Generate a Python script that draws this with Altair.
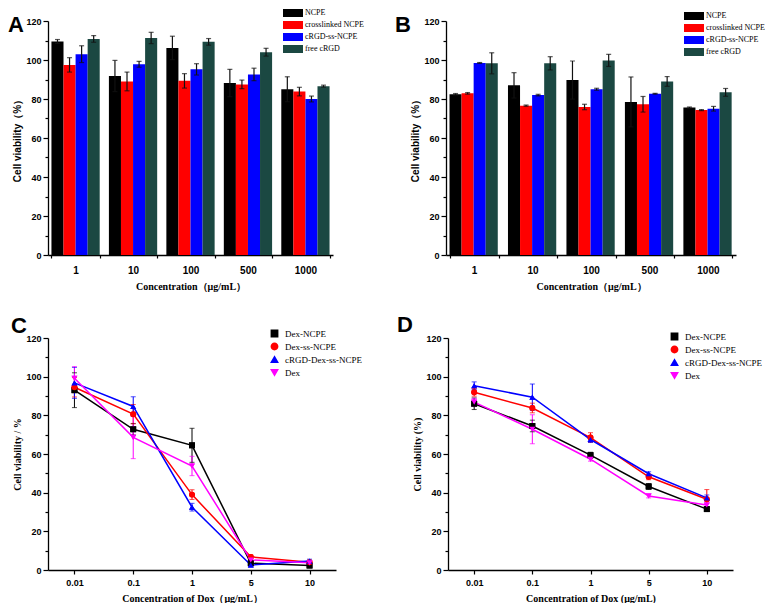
import altair as alt
import pandas as pd

# ---------------- data ----------------
conc_bar = ["1", "10", "100", "500", "1000"]
bar_series = ["NCPE", "crosslinked NCPE", "cRGD-ss-NCPE", "free cRGD"]
bar_colors = ["#000000", "#ff0000", "#0000ff", "#1b4842"]

# Panel A
a_ncpe = [109.5, 91.8, 106.2, 88.2, 85.0]
a_ncpe_err = [1.0, 8.0, 6.0, 7.0, 6.4]
a_cross = [97.5, 89.0, 89.3, 87.5, 83.8]
a_cross_err = [3.7, 4.8, 3.7, 2.2, 2.2]
a_crgd = [103.0, 97.8, 95.2, 92.6, 80.0]
a_crgd_err = [4.3, 1.5, 2.9, 3.2, 1.5]
a_free = [110.8, 111.3, 109.3, 104.0, 86.6]
a_free_err = [1.7, 2.9, 1.7, 2.0, 0.5]

# Panel B
b_ncpe = [82.4, 87.0, 89.7, 78.5, 75.6]
b_ncpe_err = [0.4, 6.5, 9.8, 12.8, 0.3]
b_cross = [82.9, 76.6, 75.9, 77.3, 74.3]
b_cross_err = [0.4, 0.3, 1.4, 4.0, 0.3]
b_crgd = [98.5, 82.0, 85.0, 82.7, 75.0]
b_crgd_err = [0.2, 0.4, 0.5, 0.2, 1.2]
b_free = [98.3, 98.3, 99.8, 89.0, 83.4]
b_free_err = [5.4, 3.4, 3.1, 2.5, 2.0]

dox_conc = ["0.01", "0.1", "1", "5", "10"]
line_series = ["Dex-NCPE", "Dex-ss-NCPE", "cRGD-Dex-ss-NCPE", "Dex"]
line_colors = ["#000000", "#ff0000", "#0000ff", "#ff00ff"]
marker_shapes = ["square", "circle", "triangle-up", "triangle-down"]

# Panel C
c_dex_ncpe = [93.0, 72.8, 64.5, 3.5, 2.3]
c_dex_ncpe_err = [9.0, 3.0, 8.8, 1.0, 1.0]
c_dex_ss = [94.5, 80.6, 39.0, 6.8, 4.0]
c_dex_ss_err = [5.0, 5.0, 2.5, 1.0, 1.0]
c_crgd = [96.8, 84.6, 32.5, 2.6, 4.6]
c_crgd_err = [8.0, 5.0, 2.0, 1.0, 1.0]
c_dox = [99.2, 68.6, 53.8, 5.2, 3.7]
c_dox_err = [6.0, 11.0, 5.0, 1.0, 1.0]

# Panel D
d_dex_ncpe = [86.0, 74.5, 59.4, 43.2, 31.5]
d_dex_ncpe_err = [3.0, 3.0, 1.5, 1.5, 1.0]
d_dex_ss = [91.9, 83.8, 68.5, 48.2, 36.6]
d_dex_ss_err = [2.0, 2.5, 2.5, 1.5, 5.0]
d_crgd = [95.3, 89.4, 67.5, 49.8, 37.3]
d_crgd_err = [2.0, 6.8, 1.5, 1.0, 1.5]
d_dox = [86.8, 72.8, 57.3, 38.3, 33.6]
d_dox_err = [2.0, 7.5, 1.0, 1.0, 1.0]


def long_table(cats, series, vals, errs):
    rows = []
    for s, v, e in zip(series, vals, errs):
        for c, vi, ei in zip(cats, v, e):
            rows.append({"conc": c, "series": s, "value": vi,
                         "lo": vi - ei, "hi": vi + ei})
    return pd.DataFrame(rows)


def y_axis(title, font):
    return alt.Axis(
        title=title, values=list(range(0, 121, 10)),
        labelExpr="datum.value % 20 === 0 ? datum.label : ''",
        tickSize={"condition": {"test": "datum.value % 20 === 0", "value": 5}, "value": 3},
        labelOverlap=False, titleFont=font, minExtent=22, maxExtent=22,
        titlePadding=4,
    )


def letter_layer(letter, dx, dy):
    return alt.Chart(pd.DataFrame({"letter": [letter]})).mark_text(
        align="left", baseline="alphabetic", fontSize=22, font="Liberation Sans",
        fontWeight="bold", color="#000000"
    ).encode(text="letter:N", x=alt.value(dx), y=alt.value(dy))


def bar_panel(vals, errs, letter, width, height, leg_x, leg_y, ytitle, tdx, tdy):
    df = long_table(conc_bar, bar_series, vals, errs)
    x = alt.X("conc:N", sort=conc_bar,
              scale=alt.Scale(paddingInner=0.16, paddingOuter=0.06),
              axis=alt.Axis(title="Concentration（μg/mL）", labelAngle=0, tickBand="extent",
                            tickSize=3, labelPadding=7, titlePadding=6, labelFontSize=10))
    xo = alt.XOffset("series:N", sort=bar_series)
    yscale = alt.Scale(domain=[0, 120], nice=False)
    yax = y_axis(ytitle, "Liberation Sans")
    color = alt.Color(
        "series:N", sort=bar_series,
        scale=alt.Scale(domain=bar_series, range=bar_colors),
        legend=alt.Legend(title=None, orient="none", legendX=leg_x, legendY=leg_y,
                          symbolType="M-2,-0.8H2V0.8H-2Z", symbolSize=100,
                          labelFont="Liberation Serif", labelFontSize=8, rowPadding=3,
                          padding=0, labelOffset=7, symbolStrokeWidth=0),
    )
    base = alt.Chart(df).encode(x=x, xOffset=xo)
    bars = base.mark_bar().encode(
        y=alt.Y("value:Q", scale=yscale, axis=yax), color=color)
    rule = base.mark_rule(color="#111111", strokeWidth=1.2).encode(
        y=alt.Y("lo:Q", scale=yscale, axis=yax), y2="hi:Q")
    cap_hi = base.mark_tick(color="#111111", size=5, thickness=1.2).encode(
        y=alt.Y("hi:Q", scale=yscale, axis=yax))
    cap_lo = base.mark_tick(color="#111111", size=5, thickness=1.2).encode(
        y=alt.Y("lo:Q", scale=yscale, axis=yax))
    return alt.layer(bars, rule, cap_hi, cap_lo, letter_layer(letter, tdx, tdy)).properties(
        width=width, height=height)


def line_panel(vals, errs, letter, width, height, leg_x, leg_y, ytitle, xtitle, yfont, tdx, tdy):
    df = long_table(dox_conc, line_series, vals, errs)
    x = alt.X("conc:N", sort=dox_conc, scale=alt.Scale(type="point", padding=0.45),
              axis=alt.Axis(title=xtitle, labelAngle=0, tickSize=4, labelPadding=4,
                            titlePadding=6))
    yscale = alt.Scale(domain=[0, 120], nice=False)
    yax = y_axis(ytitle, yfont)
    cscale = alt.Scale(domain=line_series, range=line_colors)
    leg = alt.Legend(title=None, orient="none", legendX=leg_x, legendY=leg_y,
                     symbolSize=40, labelFont="Liberation Serif", labelFontSize=9,
                     rowPadding=0, padding=0, labelOffset=6, symbolStrokeWidth=1.5)
    col = alt.Color("series:N", sort=line_series, scale=cscale, legend=leg)
    base = alt.Chart(df).encode(x=x)
    rule = base.mark_rule(strokeWidth=1).encode(
        y=alt.Y("lo:Q", scale=yscale, axis=yax), y2="hi:Q", color=col)
    cap_hi = base.mark_tick(size=5, thickness=1).encode(
        y=alt.Y("hi:Q", scale=yscale, axis=yax), color=col)
    cap_lo = base.mark_tick(size=5, thickness=1).encode(
        y=alt.Y("lo:Q", scale=yscale, axis=yax), color=col)
    line = base.mark_line(strokeWidth=1.5).encode(
        y=alt.Y("value:Q", scale=yscale, axis=yax), color=col)
    pts = base.mark_point(filled=True, size=35, opacity=1).encode(
        y=alt.Y("value:Q", scale=yscale, axis=yax), color=col,
        shape=alt.Shape("series:N", sort=line_series,
                        scale=alt.Scale(domain=line_series, range=marker_shapes), legend=leg))
    return alt.layer(pts, rule, cap_hi, cap_lo, line, pts,
                     letter_layer(letter, tdx, tdy)).properties(width=width, height=height)


pa = bar_panel([a_ncpe, a_cross, a_crgd, a_free], [a_ncpe_err, a_cross_err, a_crgd_err, a_free_err],
               "A", 285, 234, 240, -13, "Cell viability（%）", -40, 11)
pb = bar_panel([b_ncpe, b_cross, b_crgd, b_free], [b_ncpe_err, b_cross_err, b_crgd_err, b_free_err],
               "B", 290, 234, 243, -10, "Cell viability（%）", -51, 11)
pc = line_panel([c_dex_ncpe, c_dex_ss, c_crgd, c_dox], [c_dex_ncpe_err, c_dex_ss_err, c_crgd_err, c_dox_err],
                "C", 288, 232, 222, -9, "Cell viability / %", "Concentration of Dox（μg/mL）",
                "Liberation Serif", -37, -5)
pd_ = line_panel([d_dex_ncpe, d_dex_ss, d_crgd, d_dox], [d_dex_ncpe_err, d_dex_ss_err, d_crgd_err, d_dox_err],
                 "D", 285, 232, 222, -6, "Cell viability (%)", "Concentration of Dox (μg/mL)",
                 "Liberation Serif", -51, -6)

ind = dict(color="independent", shape="independent")
row1 = alt.hconcat(pa, pb, spacing=31).resolve_scale(**ind)
row2 = alt.hconcat(pc, pd_, spacing=35).resolve_scale(**ind)

chart = alt.vconcat(row1, row2, spacing=23).resolve_scale(**ind).properties(
    padding=0, background="white"
).configure_view(stroke=None).configure_axis(
    domainColor="#000000", domainWidth=1.3, tickColor="#000000", tickWidth=1.2,
    labelFont="Liberation Sans", labelFontWeight="bold", labelFontSize=9, labelColor="#000000",
    titleFont="Liberation Serif", titleFontWeight="bold", titleFontSize=10, titleColor="#000000",
    grid=False,
)

chart.save("out.html", embed_options={"renderer": "svg", "actions": False})
